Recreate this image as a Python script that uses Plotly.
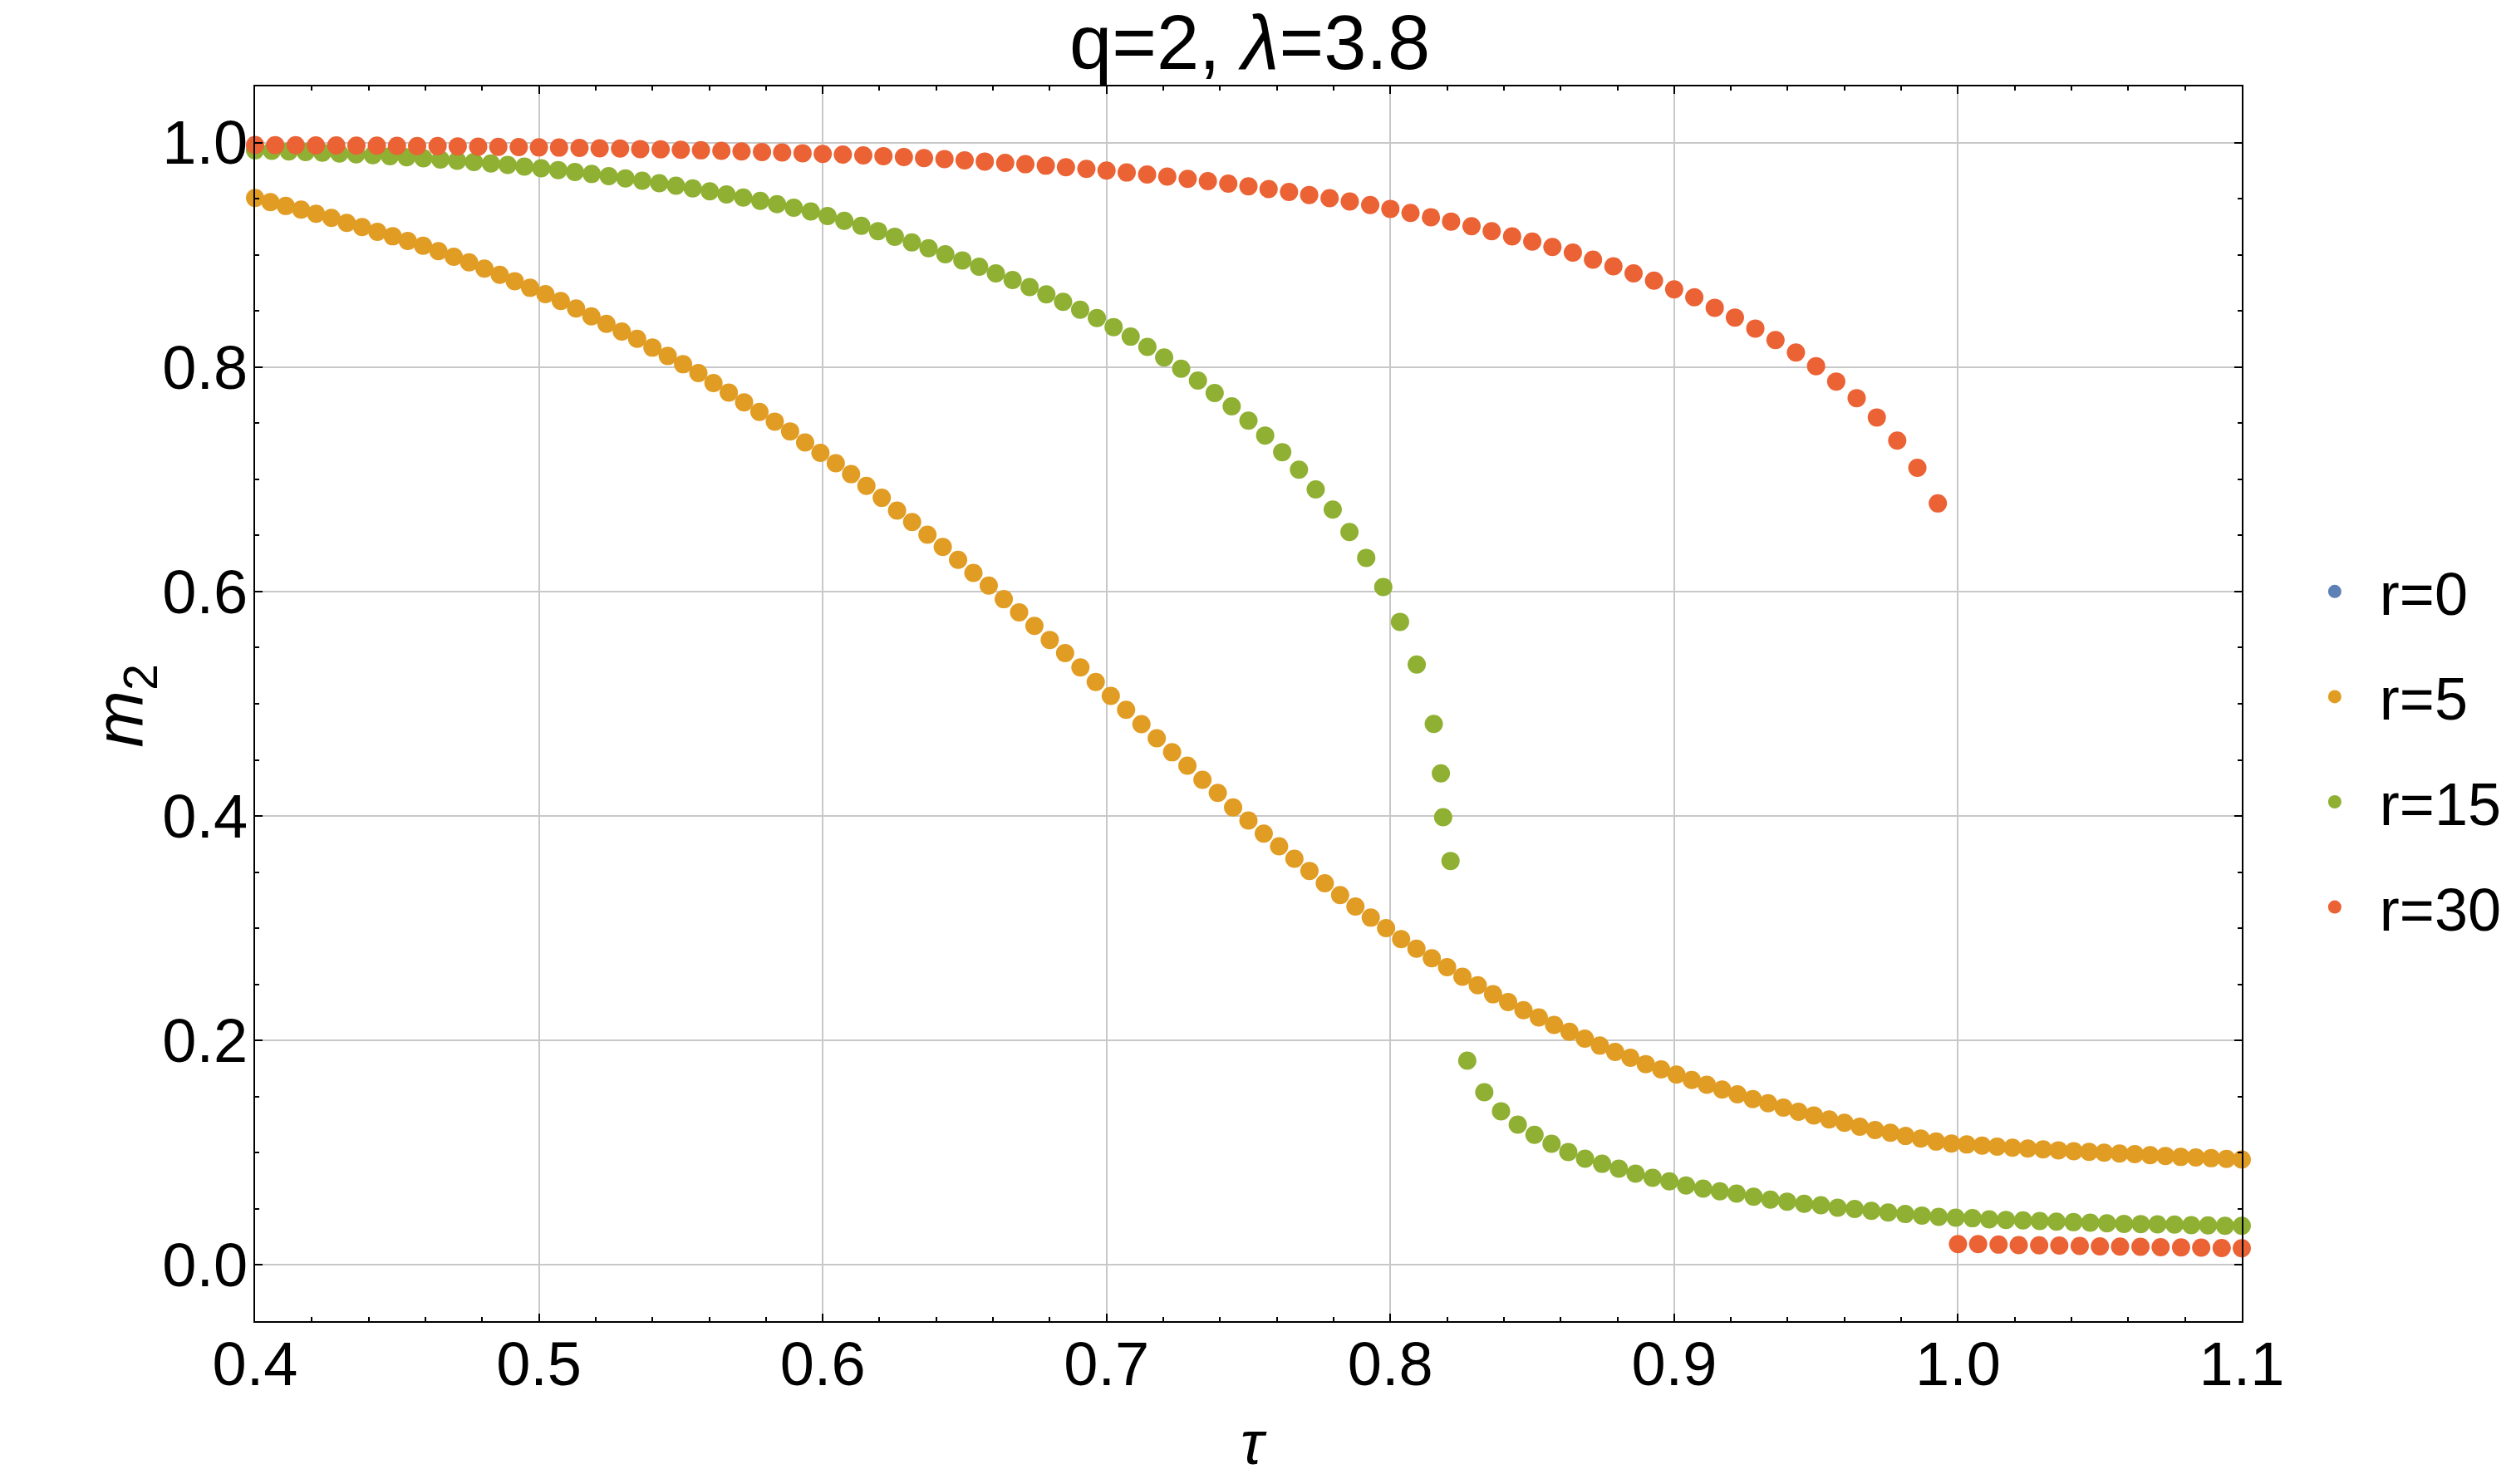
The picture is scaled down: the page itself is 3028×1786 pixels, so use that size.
import plotly.graph_objects as go

# ---------------- data ----------------
series_names = ["r=0", "r=5", "r=15", "r=30"]
series_colors = ["#5E81B5", "#E19C24", "#8FB032", "#EB6235"]

x_ticks = [0.4, 0.5, 0.6, 0.7, 0.8, 0.9, 1.0, 1.1]
x_tick_labels = ["0.4", "0.5", "0.6", "0.7", "0.8", "0.9", "1.0", "1.1"]
y_ticks = [0.0, 0.2, 0.4, 0.6, 0.8, 1.0]
y_tick_labels = ["0.0", "0.2", "0.4", "0.6", "0.8", "1.0"]

# r=0 : no visible points in the reference
tau_r0 = []
m2_r0 = []

# r=5
tau_r5 = [0.4000, 0.4054, 0.4108, 0.4162, 0.4215, 0.4269, 0.4323, 0.4377, 0.4431, 0.4485,
          0.4538, 0.4592, 0.4646, 0.4700, 0.4754, 0.4808, 0.4862, 0.4915, 0.4969, 0.5023,
          0.5077, 0.5131, 0.5185, 0.5238, 0.5292, 0.5346, 0.5400, 0.5454, 0.5508, 0.5562,
          0.5615, 0.5669, 0.5723, 0.5777, 0.5831, 0.5885, 0.5938, 0.5992, 0.6046, 0.6100,
          0.6154, 0.6208, 0.6262, 0.6315, 0.6369, 0.6423, 0.6477, 0.6531, 0.6585, 0.6638,
          0.6692, 0.6746, 0.6800, 0.6854, 0.6908, 0.6962, 0.7015, 0.7069, 0.7123, 0.7177,
          0.7231, 0.7285, 0.7338, 0.7392, 0.7446, 0.7500, 0.7554, 0.7608, 0.7662, 0.7715,
          0.7769, 0.7823, 0.7877, 0.7931, 0.7985, 0.8038, 0.8092, 0.8146, 0.8200, 0.8254,
          0.8308, 0.8362, 0.8415, 0.8469, 0.8523, 0.8577, 0.8631, 0.8685, 0.8738, 0.8792,
          0.8846, 0.8900, 0.8954, 0.9008, 0.9062, 0.9115, 0.9169, 0.9223, 0.9277, 0.9331,
          0.9385, 0.9438, 0.9492, 0.9546, 0.9600, 0.9654, 0.9708, 0.9762, 0.9815, 0.9869,
          0.9923, 0.9977, 1.0031, 1.0085, 1.0138, 1.0192, 1.0246, 1.0300, 1.0354, 1.0408,
          1.0462, 1.0515, 1.0569, 1.0623, 1.0677, 1.0731, 1.0785, 1.0838, 1.0892, 1.0946,
          1.1000]
m2_r5 = [0.9506, 0.9469, 0.9435, 0.9402, 0.9365, 0.9328, 0.9284, 0.9247, 0.9205, 0.9165,
         0.9123, 0.9081, 0.9032, 0.8983, 0.8933, 0.8877, 0.8822, 0.8765, 0.8706, 0.8649,
         0.8588, 0.8521, 0.8452, 0.8385, 0.8316, 0.8252, 0.8173, 0.8099, 0.8025, 0.7946,
         0.7857, 0.7773, 0.7686, 0.7600, 0.7514, 0.7427, 0.7328, 0.7235, 0.7143,
         0.7046, 0.6941, 0.6835, 0.6721, 0.6619, 0.6506, 0.6397, 0.6283, 0.6166, 0.6053,
         0.5932, 0.5815, 0.5694, 0.5569, 0.5452, 0.5324, 0.5195, 0.5071, 0.4946, 0.4818,
         0.4693, 0.4568, 0.4448, 0.4323, 0.4206, 0.4077, 0.3960, 0.3843, 0.3730, 0.3620,
         0.3511, 0.3401, 0.3296, 0.3194, 0.3095, 0.3001, 0.2903,
         0.2818, 0.2733, 0.2653, 0.2568, 0.2493, 0.2412, 0.2342, 0.2271, 0.2205, 0.2139,
         0.2078, 0.2017, 0.1955, 0.1899, 0.1847, 0.1790, 0.1743, 0.1696, 0.1649, 0.1606,
         0.1564, 0.1521, 0.1479, 0.1441, 0.1403, 0.1366, 0.1333,
         0.1297, 0.1267, 0.1232, 0.1203, 0.1178, 0.1150, 0.1127, 0.1100, 0.1082, 0.1074,
         0.1064, 0.1055, 0.1045, 0.1038, 0.1031, 0.1022, 0.1014, 0.1008, 0.1001, 0.0994,
         0.0988, 0.0979, 0.0972, 0.0963, 0.0958, 0.0952, 0.0945, 0.0940]

# r=15
tau_r15 = [0.4000, 0.4059, 0.4119, 0.4178, 0.4237, 0.4297, 0.4356, 0.4415, 0.4475, 0.4534,
           0.4593, 0.4653, 0.4712, 0.4771, 0.4831, 0.4890, 0.4949, 0.5008, 0.5068, 0.5127,
           0.5186, 0.5246, 0.5305, 0.5364, 0.5424, 0.5483, 0.5542, 0.5602, 0.5661, 0.5720,
           0.5780, 0.5839, 0.5898, 0.5958, 0.6017, 0.6076, 0.6136, 0.6195, 0.6254, 0.6314,
           0.6373, 0.6432, 0.6492, 0.6551, 0.6610, 0.6669, 0.6729, 0.6788, 0.6847, 0.6907,
           0.6966, 0.7025, 0.7085, 0.7144, 0.7203, 0.7263, 0.7322, 0.7381, 0.7441, 0.7500,
           0.7559, 0.7619, 0.7678, 0.7737, 0.7797, 0.7856, 0.7915, 0.7975, 0.8034, 0.8093,
           0.8153, 0.8178, 0.8186, 0.8212,
           0.8271, 0.8331, 0.8390, 0.8449, 0.8508, 0.8568, 0.8627, 0.8686, 0.8746, 0.8805,
           0.8864, 0.8924, 0.8983, 0.9042, 0.9102, 0.9161, 0.9220, 0.9280, 0.9339, 0.9398,
           0.9458, 0.9517, 0.9576, 0.9636, 0.9695, 0.9754, 0.9814, 0.9873, 0.9932, 0.9992,
           1.0051, 1.0110, 1.0169, 1.0229, 1.0288, 1.0347, 1.0407, 1.0466, 1.0525, 1.0585,
           1.0644, 1.0703, 1.0763, 1.0822, 1.0881, 1.0941, 1.1000]
m2_r15 = [0.9931, 0.9926, 0.9921, 0.9916, 0.9910, 0.9903, 0.9895, 0.9887, 0.9878, 0.9869,
          0.9859, 0.9849, 0.9838, 0.9826, 0.9813, 0.9800, 0.9786, 0.9771, 0.9755, 0.9738,
          0.9720, 0.9701, 0.9681, 0.9660, 0.9638, 0.9615, 0.9591, 0.9565, 0.9538, 0.9510,
          0.9481, 0.9451, 0.9419, 0.9386, 0.9345, 0.9302, 0.9258, 0.9211, 0.9161,
          0.9110, 0.9058, 0.9005, 0.8950, 0.8893, 0.8835, 0.8775, 0.8713, 0.8648, 0.8581,
          0.8511, 0.8436, 0.8356, 0.8271, 0.8180, 0.8085, 0.7985, 0.7880, 0.7768, 0.7650,
          0.7522, 0.7390, 0.7242, 0.7085,
          0.691, 0.673, 0.653, 0.630, 0.604, 0.573, 0.535, 0.482,
          0.438, 0.399, 0.360,
          0.182, 0.154, 0.137, 0.125, 0.116, 0.108, 0.1006, 0.0947,
          0.0902, 0.0858, 0.0814, 0.0777, 0.0745, 0.0708, 0.0680, 0.0656,
          0.0636, 0.0609, 0.0582, 0.0565, 0.0545, 0.0533, 0.0510, 0.0500, 0.0483, 0.0468,
          0.0454, 0.0441, 0.0429, 0.0422, 0.0417, 0.0407, 0.0402, 0.0397, 0.0392, 0.0387,
          0.0382, 0.0377, 0.0372, 0.0367, 0.0365, 0.0362, 0.0360, 0.0355, 0.0353, 0.0350,
          0.0350]

# r=30
tau_r30 = [0.4000, 0.4071, 0.4143, 0.4214, 0.4286, 0.4357, 0.4429, 0.4500, 0.4571, 0.4643,
           0.4714, 0.4786, 0.4857, 0.4929, 0.5000, 0.5071, 0.5143, 0.5214, 0.5286, 0.5357,
           0.5429, 0.5500, 0.5571, 0.5643, 0.5714, 0.5786, 0.5857, 0.5929, 0.6000, 0.6071,
           0.6143, 0.6214, 0.6286, 0.6357, 0.6429, 0.6500, 0.6571, 0.6643, 0.6714, 0.6786,
           0.6857, 0.6929, 0.7000, 0.7071, 0.7143, 0.7214, 0.7286, 0.7357, 0.7429, 0.7500,
           0.7571, 0.7643, 0.7714, 0.7786, 0.7857, 0.7929, 0.8000, 0.8071, 0.8143, 0.8214,
           0.8286, 0.8357, 0.8429, 0.8500, 0.8571, 0.8643, 0.8714, 0.8786, 0.8857, 0.8929,
           0.9000, 0.9071, 0.9143, 0.9214, 0.9286, 0.9357, 0.9429, 0.9500, 0.9571, 0.9643,
           0.9714, 0.9786, 0.9857, 0.9929,
           1.0000, 1.0071, 1.0143, 1.0214, 1.0286, 1.0357, 1.0429, 1.0500, 1.0571, 1.0643,
           1.0714, 1.0786, 1.0857, 1.0929, 1.1000]
m2_r30 = [0.9978, 0.9977, 0.9976, 0.9975, 0.9974, 0.9973, 0.9972, 0.9971, 0.9969, 0.9968,
          0.9966, 0.9964, 0.9962, 0.9960, 0.9957, 0.9955, 0.9952, 0.9949, 0.9946, 0.9942,
          0.9939, 0.9935, 0.9931, 0.9926, 0.9921, 0.9916, 0.9911, 0.9905, 0.9899, 0.9893,
          0.9886, 0.9879, 0.9871,
          0.9862, 0.9853, 0.9842, 0.9831, 0.9819, 0.9807, 0.9794, 0.9780, 0.9765, 0.9750,
          0.9733, 0.9715, 0.9697, 0.9677, 0.9656, 0.9634, 0.9610, 0.9586, 0.9560, 0.9533,
          0.9505, 0.9475, 0.9443, 0.9409, 0.9373, 0.9335, 0.9296, 0.9254, 0.9210, 0.9164,
          0.9118, 0.9069, 0.9020,
          0.8956, 0.8898, 0.8835, 0.8769, 0.8692, 0.8621, 0.8528, 0.8441, 0.8343, 0.8240,
          0.8129, 0.8008, 0.7871, 0.7723, 0.7551, 0.7345, 0.7102, 0.6785,
          0.0187, 0.0186, 0.0182, 0.0178, 0.0175, 0.0173, 0.0170, 0.0166, 0.0164, 0.0162,
          0.0159, 0.0157, 0.0155, 0.0152, 0.0150]

series_x = [tau_r0, tau_r5, tau_r15, tau_r30]
series_y = [m2_r0, m2_r5, m2_r15, m2_r30]

# ---------------- figure ----------------
FONT = "Liberation Sans, Arial, Helvetica, sans-serif"
W, H = 3028, 1786
L, R, T, B = 307, 324, 104, 196

fig = go.Figure()
for i, name in enumerate(series_names):
    xs = series_x[i] if series_x[i] else [None]
    ys = series_y[i] if series_y[i] else [None]
    fig.add_trace(go.Scatter(
        x=xs, y=ys, mode="markers", name=name,
        legendgroup=name,
        marker=dict(color=series_colors[i], size=22, line=dict(width=0)),
        cliponaxis=False,
    ))

axis_common = dict(
    showline=True, linecolor="black", linewidth=2,
    mirror="allticks", ticks="inside", ticklen=9, tickwidth=2, tickcolor="black",
    showgrid=True, gridcolor="#c8c8c8", gridwidth=2,
    zeroline=False,
    tickfont=dict(family=FONT, size=74, color="black"),
)

fig.update_xaxes(
    range=[0.4, 1.1], tickvals=x_ticks, ticktext=x_tick_labels,
    minor=dict(dtick=0.02, ticks="inside", ticklen=5, tickwidth=2,
               tickcolor="black", showgrid=False),
    ticklabelstandoff=-14,
    **axis_common,
)
fig.update_yaxes(
    range=[-0.05, 1.05], tickvals=y_ticks, ticktext=y_tick_labels,
    minor=dict(dtick=0.05, ticks="inside", ticklen=5, tickwidth=2,
               tickcolor="black", showgrid=False),
    ticklabelstandoff=-8,
    **axis_common,
)

pw = W - L - R
ph = H - T - B

fig.update_layout(
    width=W, height=H, autosize=False,
    margin=dict(l=L, r=R, t=T, b=B, pad=0),
    plot_bgcolor="white", paper_bgcolor="white",
    font=dict(family=FONT, color="black"),
    showlegend=True,
    legend=dict(
        x=(2762 - L) / pw, xanchor="left",
        y=(H - B - 902) / ph, yanchor="middle",
        font=dict(family=FONT, size=72, color="black"),
        tracegroupgap=30, itemwidth=98,
        bgcolor="rgba(0,0,0,0)", borderwidth=0,
    ),
    annotations=[
        dict(text="q=2, <i>λ</i>=3.8", xref="paper", yref="paper",
             x=(1507 - L) / pw, y=(H - B - 51) / ph, xanchor="center", yanchor="middle",
             showarrow=False, font=dict(family=FONT, size=92, color="black")),
        dict(text="<i>τ</i>", xref="paper", yref="paper",
             x=(1512 - L) / pw, y=(H - B - 1736) / ph, xanchor="center", yanchor="middle",
             showarrow=False, font=dict(family=FONT, size=74, color="black")),
        dict(text="<i>m</i><sub>2</sub>", xref="paper", yref="paper",
             x=(148 - L) / pw, y=(H - B - 849) / ph, xanchor="center", yanchor="middle",
             textangle=-90, showarrow=False,
             font=dict(family=FONT, size=82, color="black")),
    ],
)

fig.write_html("out.html")
